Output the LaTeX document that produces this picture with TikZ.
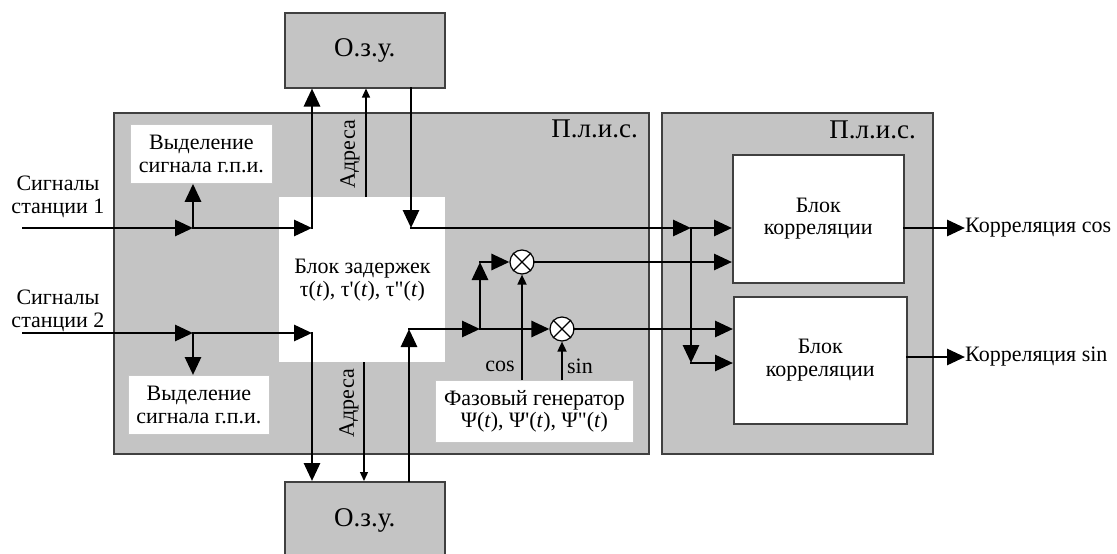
\documentclass[tikz,border=0pt]{standalone}
\usepackage{fontspec}
\setmainfont{Liberation Serif}
\usetikzlibrary{arrows.meta}
\definecolor{plis}{RGB}{196,196,196}
\definecolor{edge}{RGB}{64,64,64}
\tikzset{
 every node/.style={font=\fontsize{22}{22.5}\selectfont, inner sep=0pt},
 panel/.style={draw=edge, line width=1.5pt, fill=plis, anchor=north west, align=center},
 mem/.style={panel, font=\fontsize{27}{28}\selectfont},
 wbox/.style={fill=white, draw=black!22, line width=0.8pt, anchor=north west, align=center},
 cbox/.style={fill=white, draw=edge, line width=1.5pt, anchor=north west, align=center},
 mixer/.style={circle, draw=black, line width=1.2pt, fill=white, minimum size=24pt},
 bus/.style={line width=2.9pt, line cap=rect, -{Triangle[length=18pt,width=16pt]}},
 ctrl/.style={line width=1.7pt, -{Triangle[length=10pt,width=9pt]}},
 addr/.style={line width=1.3pt, -{Triangle[length=9pt,width=8pt]}},
 lbl/.style={align=center},
 plislabel/.style={font=\fontsize{27}{28}\selectfont, anchor=east},
}
\begin{document}
\begin{tikzpicture}[x=1pt,y=-1pt]
\useasboundingbox (0,0) rectangle (1117,554);
\clip (0,0) rectangle (1117,554);

% panels
\node[panel, minimum width=535pt, minimum height=341pt] (lplis) at (113,112) {};
\node[panel, minimum width=271pt, minimum height=341pt] (rplis) at (661,112) {};
\node[plislabel] (lpl) at (638,129) {П.л.и.с.};
\node[plislabel] (rpl) at (916,130) {П.л.и.с.};

% memories
\node[mem, minimum width=160pt, minimum height=75pt] (ozu1) at (284,12) {О.з.у.};
\node[mem, minimum width=160pt, minimum height=78pt] (ozu2) at (284,481) {О.з.у.};

% inner blocks
\node[wbox, minimum width=142pt, minimum height=59pt] (gpi1) at (130,124) {Выделение\\сигнала г.п.и.};
\node[wbox, minimum width=141pt, minimum height=59pt] (gpi2) at (128,375) {Выделение\\сигнала г.п.и.};
\node[wbox, draw=none, minimum width=166pt, minimum height=165pt] (delay) at (279,197)
  {Блок задержек\\τ(\textit{t}), τ\textquotesingle(\textit{t}), τ\textquotedbl(\textit{t})};
\node[wbox, minimum width=198pt, minimum height=62pt] (phase) at (435,380)
  {Фазовый генератор\\Ψ(\textit{t}), Ψ\textquotesingle(\textit{t}), Ψ\textquotedbl(\textit{t})};
\node[cbox, minimum width=171pt, minimum height=128pt] (corr1) at (732,154) {Блок\\корреляции};
\node[cbox, minimum width=173pt, minimum height=127pt] (corr2) at (733,296) {Блок\\корреляции};

% mixers
\node[mixer] (mix1) at (522,262) {};
\node[mixer] (mix2) at (562,329) {};
\draw[line width=1.2pt] (mix1.north west) -- (mix1.south east) (mix1.north east) -- (mix1.south west);
\draw[line width=1.2pt] (mix2.north west) -- (mix2.south east) (mix2.north east) -- (mix2.south west);

% external labels
\node[lbl] (in1) at (58,197) {Сигналы\\станции 1};
\node[lbl] (in2) at (58,311) {Сигналы\\станции 2};
\node[anchor=west] (outc) at (965,228) {Корреляция cos};
\node[anchor=west] (outs) at (965,357) {Корреляция sin};
\node[rotate=90] (adr1) at (350,154) {Адреса};
\node[rotate=90] (adr2) at (349,403) {Адреса};
\node (lcos) at (500,366) {cos};
\node (lsin) at (580,366) {sin};

% coordinates
\coordinate (s1) at (23,228);
\coordinate (j1) at (193,228);
\coordinate (c1) at (312,228);
\coordinate (s2) at (23,333);
\coordinate (j2) at (193,333);
\coordinate (c2) at (312,333);
\coordinate (d1) at (411,228);
\coordinate (j3) at (691,228);
\coordinate (j4) at (691,363);
\coordinate (d2) at (409,329);
\coordinate (j5) at (480,329);
\coordinate (j6) at (480,262);
\coordinate (a1) at (366,197);
\coordinate (a2) at (364,362);

% station 1
\draw[bus] (s1) -- (j1);
\draw[bus] (j1) -- (j1 |- gpi1.south);
\draw[bus] (j1) -- (c1);
\draw[bus] (c1) -- (c1 |- ozu1.south);
% station 2
\draw[bus] (s2) -- (j2);
\draw[bus] (j2) -- (j2 |- gpi2.north);
\draw[bus] (j2) -- (c2);
\draw[bus] (c2) -- (c2 |- ozu2.north);
% from top memory
\draw[bus] (d1 |- ozu1.south) -- (d1);
\draw[bus] (d1) -- (j3);
\draw[bus] (j3) -- (corr1.west |- j3);
\draw[bus] (j3) -- (j4);
\draw[bus] (j4) -- (corr2.west |- j4);
% from bottom memory
\draw[bus] (d2 |- ozu2.north) -- (d2);
\draw[bus] (d2) -- (j5);
\draw[bus] (j5) -- (j6);
\draw[bus] (j6) -- (mix1.west);
\draw[bus] (j5) -- (mix2.west);
\draw[bus] (mix1.east) -- (corr1.west |- mix1.east);
\draw[bus] (mix2.east) -- (corr2.west |- mix2.east);
% phase generator
\draw[ctrl] (phase.north -| mix1) -- (mix1.south);
\draw[ctrl] (phase.north -| mix2) -- (mix2.south);
% addresses
\draw[addr] (a1) -- (a1 |- ozu1.south);
\draw[addr] (a2) -- (a2 |- ozu2.north);
% outputs
\draw[bus] (corr1.east |- outc.west) -- (outc.west);
\draw[bus] (corr2.east |- outs.west) -- (outs.west);
\end{tikzpicture}
\end{document}
